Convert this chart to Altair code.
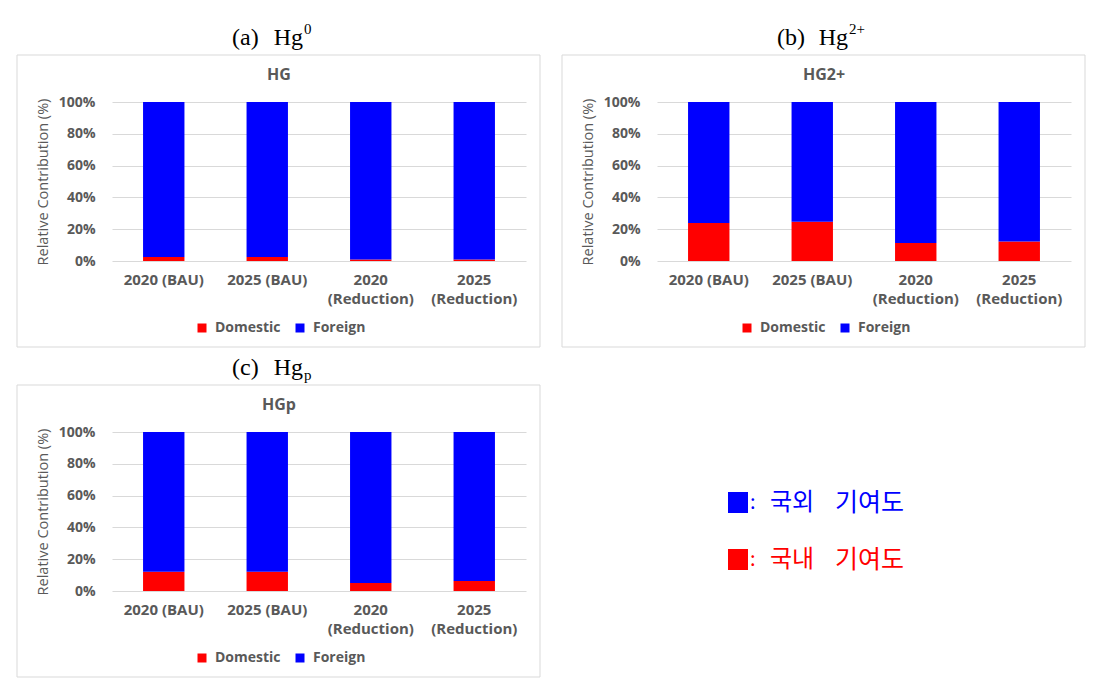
import altair as alt
import pandas as pd

categories = ["2020 (BAU)", "2025 (BAU)", "2020 (Reduction)", "2025 (Reduction)"]
sources = ["Domestic", "Foreign"]
colors = ["#ff0000", "#0000ff"]

hg_domestic = [2.5, 2.5, 1.0, 1.0]
hg_foreign = [97.5, 97.5, 99.0, 99.0]
hg2_domestic = [23.9, 24.7, 11.3, 12.2]
hg2_foreign = [76.1, 75.3, 88.7, 87.8]
hgp_domestic = [12.1, 12.1, 5.0, 6.3]
hgp_foreign = [87.9, 87.9, 95.0, 93.7]

panel_letters = ["(a)", "(b)", "(c)"]
panel_species = "Hg"
panel_scripts = ["0", "2+", "p"]
script_shift = [-11, -11, 5]          # superscript up / subscript down
chart_titles = ["HG", "HG2+", "HGp"]
y_ticks = [0, 20, 40, 60, 80, 100]
kr_words = [["국외", "기여도"], ["국내", "기여도"]]
kr_colors = ["#0000ff", "#ff0000"]

W, H = 414, 159
GRAY = "#595959"
FONT = "Open Sans"
SERIF = "Liberation Serif"
KFONT = "Noto Sans CJK KR"
ONE = alt.Data(values=[{}])


def frame_layer():
    # invisible frame so every cell has identical bounds
    return alt.Chart(ONE).mark_rect(fill="transparent", strokeOpacity=0).encode(
        x=alt.value(-95), x2=alt.value(W + 14), y=alt.value(-80), y2=alt.value(H + 86))


def text_layer(txt, x, y, size, color, font, align="left", baseline="alphabetic", weight="normal"):
    return alt.Chart(ONE).mark_text(
        text=txt, fontSize=size, color=color, font=font, align=align,
        baseline=baseline, fontWeight=weight
    ).encode(x=alt.value(x), y=alt.value(y))


def panel(dom, forn, letter, script, shift, inner_title):
    df = pd.DataFrame({
        "category": categories * 2,
        "source": [sources[0]] * 4 + [sources[1]] * 4,
        "value": dom + forn,
        "order": [0] * 4 + [1] * 4,
    })
    border = alt.Chart(ONE).mark_rect(
        fill="transparent", stroke="#d9d9d9", strokeWidth=1
    ).encode(x=alt.value(-95), x2=alt.value(W + 14), y=alt.value(-47), y2=alt.value(H + 86))

    bars = alt.Chart(df).mark_bar().encode(
        x=alt.X("category:N", sort=categories,
                scale=alt.Scale(paddingInner=0.6, paddingOuter=0.3),
                axis=alt.Axis(title=None, labelAngle=0,
                              labelExpr="indexof(datum.label,'Reduction')>=0 ? split(datum.label,' ') : datum.label",
                              labelLineHeight=19, labelPadding=11, ticks=False, tickSize=0,
                              domain=False, grid=False, labelFontSize=15, labelFontWeight="bold",
                              labelColor=GRAY, labelFont=FONT, labelOverlap=False)),
        y=alt.Y("value:Q", stack="zero", scale=alt.Scale(domain=[0, 100]),
                axis=alt.Axis(values=y_ticks, labelExpr="datum.value + '%'",
                              title="Relative Contribution (%)", titleFontSize=14.5,
                              titleFontWeight="normal", titleColor=GRAY, titleFont=FONT,
                              titlePadding=8, labelPadding=17, ticks=False, tickSize=0,
                              domain=False, gridColor="#d9d9d9", gridWidth=1,
                              labelFontSize=14, labelFontWeight="bold", labelColor=GRAY,
                              labelFont=FONT)),
        color=alt.Color("source:N", scale=alt.Scale(domain=sources, range=colors),
                        legend=alt.Legend(title=None, orient="none", legendX=83, legendY=219,
                                          direction="horizontal", symbolType="square",
                                          symbolSize=81, symbolStrokeWidth=0,
                                          labelFontSize=14, labelFontWeight="bold",
                                          labelColor=GRAY, labelFont=FONT,
                                          columnPadding=12, labelOffset=6)),
        order=alt.Order("order:Q"),
    )

    inner = text_layer(inner_title, 167, -27, 16, GRAY, FONT, align="center",
                       baseline="middle", weight="bold")
    letter_t = text_layer(letter, 120, -57, 24, "black", SERIF, align="left")
    species_t = text_layer(panel_species, 191, -57, 24, "black", SERIF, align="right")
    script_t = text_layer(script, 192, -57 + shift, 15, "black", SERIF, align="left")

    return alt.layer(frame_layer(), border, bars, inner, letter_t, species_t, script_t).properties(
        width=W, height=H)


pa = panel(hg_domestic, hg_foreign, panel_letters[0], panel_scripts[0], script_shift[0], chart_titles[0])
pb = panel(hg2_domestic, hg2_foreign, panel_letters[1], panel_scripts[1], script_shift[1], chart_titles[1])
pc = panel(hgp_domestic, hgp_foreign, panel_letters[2], panel_scripts[2], script_shift[2], chart_titles[2])

kr_layers = [frame_layer()]
for i, (words, col) in enumerate(zip(kr_words, kr_colors)):
    y0 = 60 + i * 57
    kr_layers.append(
        alt.Chart(ONE).mark_rect(color=col).encode(
            x=alt.value(72), x2=alt.value(92), y=alt.value(y0), y2=alt.value(y0 + 21))
    )
    kr_layers.append(text_layer(":", 94, y0 + 11, 20, col, KFONT, baseline="middle"))
    kr_layers.append(text_layer(words[0], 114, y0 + 11, 24, col, KFONT, baseline="middle"))
    kr_layers.append(text_layer(words[1], 179, y0 + 11, 25, col, KFONT, baseline="middle"))
kr = alt.layer(*kr_layers).properties(width=W, height=H)

chart = alt.vconcat(
    alt.hconcat(pa, pb, spacing=20).resolve_scale(color="independent").resolve_legend(color="independent"),
    alt.hconcat(pc, kr, spacing=20).resolve_scale(color="independent").resolve_legend(color="independent"),
    spacing=4,
).resolve_scale(color="independent").resolve_legend(color="independent").properties(
    padding={"left": 8, "top": 14, "right": 5, "bottom": 5},
    background="white",
).configure_view(stroke=None)

chart.save("out.html", embed_options={"renderer": "svg", "actions": False})
